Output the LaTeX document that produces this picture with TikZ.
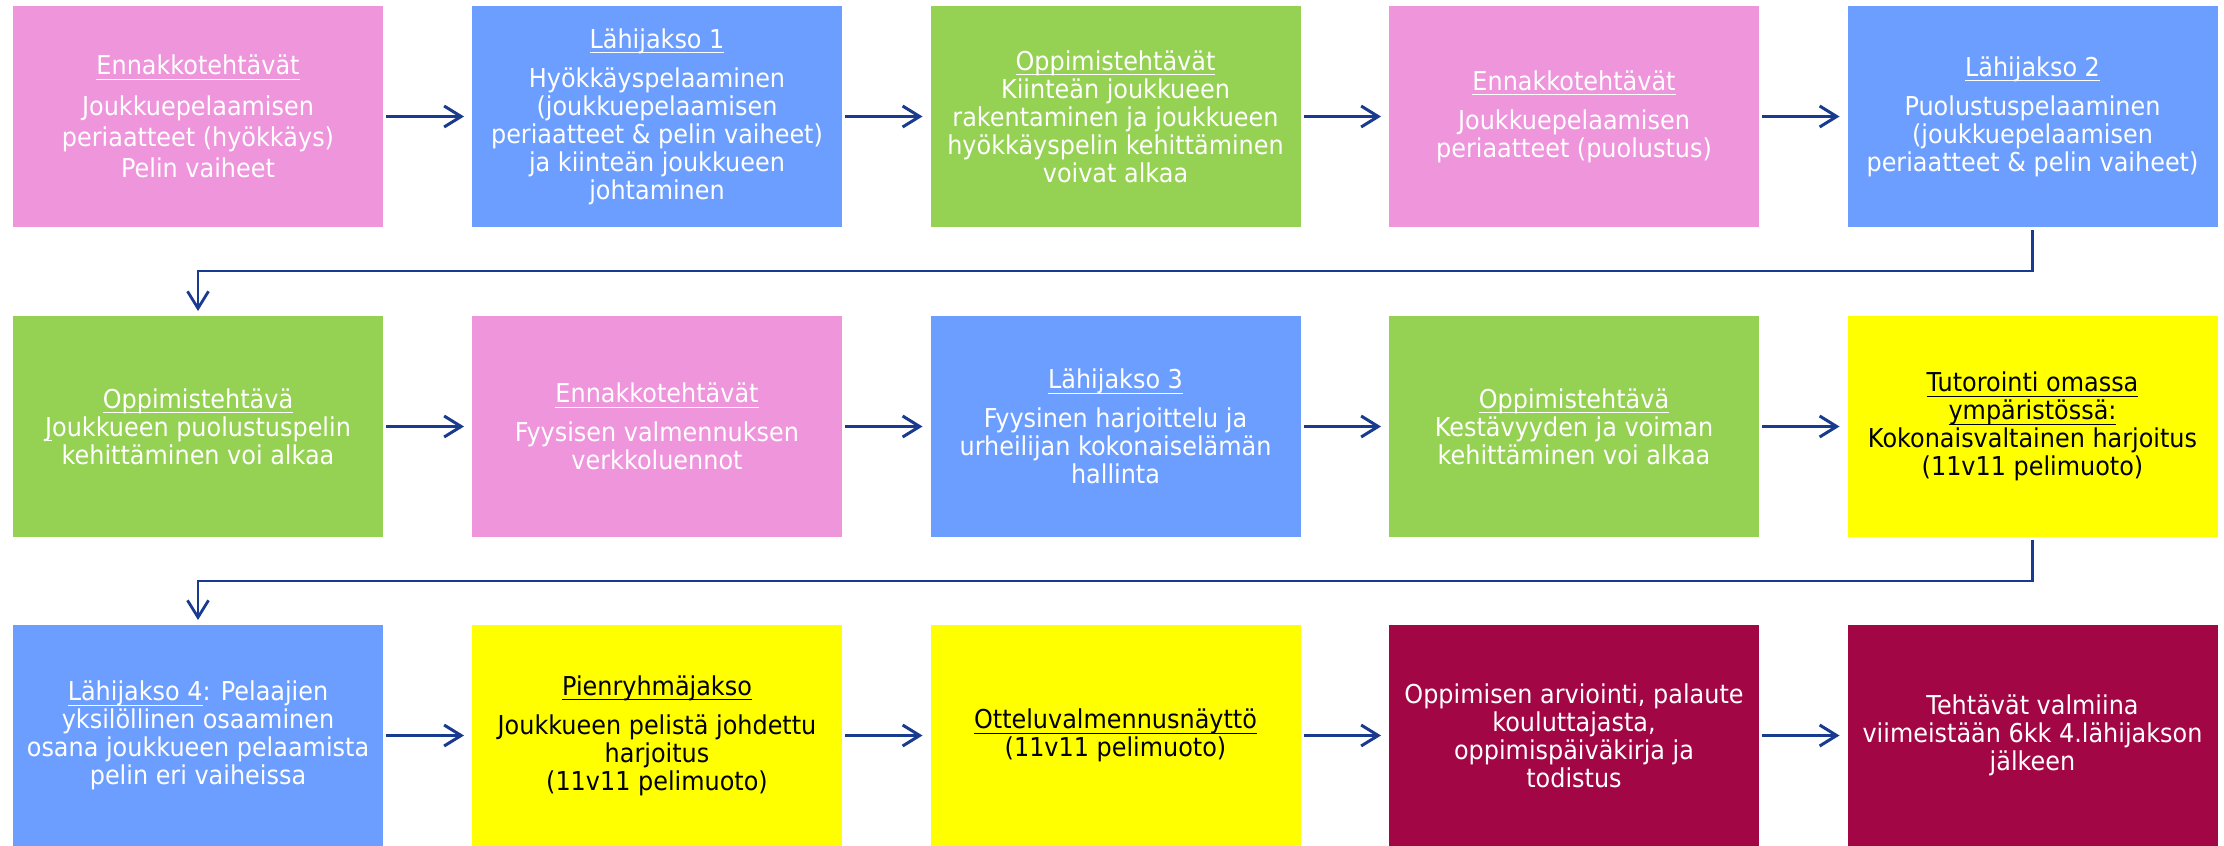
\documentclass[tikz,border=0pt]{standalone}
\usepackage{fontspec}
\setmainfont{DejaVu Sans}[FakeStretch=0.92]
\newsavebox\ulbox
\newcommand\myul[1]{\sbox\ulbox{#1}\rlap{\rule[-2.6pt]{\wd\ulbox}{0.6pt}}\usebox\ulbox}
\usetikzlibrary{arrows.meta}
\definecolor{cpink}{HTML}{EE95DC}
\definecolor{cblue}{HTML}{6C9EFF}
\definecolor{cgreen}{HTML}{95D152}
\definecolor{cyellow}{HTML}{FFFF00}
\definecolor{cmaroon}{HTML}{A30645}
\definecolor{cline}{RGB}{24,58,143}
\tikzset{
  box/.style={rectangle, minimum width=185pt, minimum height=110.5pt, inner sep=0pt, outer sep=0pt,
    align=center, text=white, font=\fontsize{13}{14}\selectfont},
  pinkbox/.style={box, fill=cpink},
  bluebox/.style={box, fill=cblue},
  greenbox/.style={box, fill=cgreen},
  yellowbox/.style={box, fill=cyellow, text=black},
  maroonbox/.style={box, fill=cmaroon},
  arr/.style={draw=cline, line width=1.5pt, -{Straight Barb[length=8.5pt,width=10.5pt]}, shorten <=1.5pt, shorten >=4pt},
  conn/.style={draw=cline, line width=1.4pt, -{Straight Barb[length=8.5pt,width=10.5pt]}, shorten <=1.5pt, shorten >=2.5pt}
}
\begin{document}
\begin{tikzpicture}[x=0.5pt,y=-0.5pt]
\useasboundingbox (0,0) rectangle (2224,846);
% row 1
\node[pinkbox, font=\fontsize{13}{15.5}\selectfont] (r1a) at (198,116.5) {\myul{Ennakkotehtävät}\\[5pt]
Joukkuepelaamisen\\ periaatteet (hyökkäys)\\ Pelin vaiheet};
\node[bluebox] (r1b) at (657,116.5) {\myul{Lähijakso 1}\\[5.5pt]
Hyökkäyspelaaminen\\ (joukkuepelaamisen\\ periaatteet \& pelin vaiheet)\\ ja kiinteän joukkueen\\ johtaminen};
\node[greenbox] (r1c) at (1115.5,116.5) {\myul{Oppimistehtävät}\\
Kiinteän joukkueen\\ rakentaminen ja joukkueen\\ hyökkäyspelin kehittäminen\\ voivat alkaa};
\node[pinkbox] (r1d) at (1574,116.5) {\myul{Ennakkotehtävät}\\[5.5pt]
Joukkuepelaamisen\\ periaatteet (puolustus)};
\node[bluebox] (r1e) at (2032.5,116.5) {\myul{Lähijakso 2}\\[5.5pt]
Puolustuspelaaminen\\ (joukkuepelaamisen\\ periaatteet \& pelin vaiheet)};
% row 2
\node[greenbox] (r2a) at (198,426.5) {\myul{Oppimistehtävä}\\
\myul{J}oukkueen puolustuspelin\\ kehittäminen voi alkaa};
\node[pinkbox] (r2b) at (657,426.5) {\myul{Ennakkotehtävät}\\[5.5pt]
Fyysisen valmennuksen\\ verkkoluennot};
\node[bluebox] (r2c) at (1115.5,426.5) {\myul{Lähijakso 3}\\[5.5pt]
Fyysinen harjoittelu ja\\ urheilijan kokonaiselämän\\ hallinta};
\node[greenbox] (r2d) at (1574,426.5) {\myul{Oppimistehtävä}\\
Kestävyyden ja voiman\\ kehittäminen voi alkaa};
\node[yellowbox] (r2e) at (2032.5,426.5) {\myul{Tutorointi omassa}\\ \myul{ympäristössä:}\\
Kokonaisvaltainen harjoitus\\ (11v11 pelimuoto)};
% row 3
\node[bluebox] (r3a) at (198,735.5) {\myul{Lähijakso 4}: Pelaajien\\ yksilöllinen osaaminen\\
osana joukkueen pelaamista\\ pelin eri vaiheissa};
\node[yellowbox] (r3b) at (657,735.5) {\myul{Pienryhmäjakso}\\[5.5pt]
Joukkueen pelistä johdettu\\ harjoitus\\ (11v11 pelimuoto)};
\node[yellowbox] (r3c) at (1115.5,735.5) {\myul{Otteluvalmennusnäyttö}\\ (11v11 pelimuoto)};
\node[maroonbox] (r3d) at (1574,735.5) {Oppimisen arviointi, palaute\\ kouluttajasta,\\
oppimispäiväkirja ja\\ todistus};
\node[maroonbox] (r3e) at (2032.5,735.5) {Tehtävät valmiina\\ viimeistään 6kk 4.lähijakson\\ jälkeen};
% horizontal arrows
\foreach \r in {1,2,3}{
  \draw[arr] (r\r a.east) -- (r\r b.west);
  \draw[arr] (r\r b.east) -- (r\r c.west);
  \draw[arr] (r\r c.east) -- (r\r d.west);
  \draw[arr] (r\r d.east) -- (r\r e.west);
}
% row connectors
\draw[conn] (r1e.south) -- ++(0,44) -| (r2a.north);
\draw[conn] (r2e.south) -- ++(0,44) -| (r3a.north);
\end{tikzpicture}
\end{document}
